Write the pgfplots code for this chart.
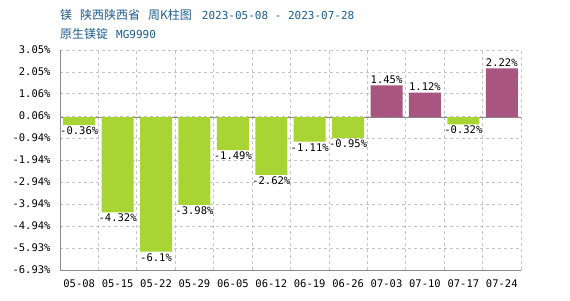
\documentclass[border=0pt]{standalone}
\usepackage{fontspec}
\setmainfont{DejaVu Sans Mono}
\setmonofont{DejaVu Sans Mono}
\newfontfamily\cjk{Noto Sans CJK SC}
\usepackage{pgfplots}
\pgfplotsset{compat=1.18}
\usepackage{pgfplotstable}

\definecolor{barneg}{HTML}{A9D534}
\definecolor{barpos}{HTML}{A8567F}
\definecolor{titleblue}{HTML}{1F5C8C}
\definecolor{gridgray}{HTML}{C4C4C4}
\definecolor{axisgray}{HTML}{8A8A8A}

\pgfplotstableread{
x y lbl
0 -0.36 -0.36\%
1 -4.32 -4.32\%
2 -6.1 -6.1\%
3 -3.98 -3.98\%
4 -1.49 -1.49\%
5 -2.62 -2.62\%
6 -1.11 -1.11\%
7 -0.95 -0.95\%
10 -0.32 -0.32\%
}\negdata
\pgfplotstableread{
x y lbl
8 1.45 1.45\%
9 1.12 1.12\%
11 2.22 2.22\%
}\posdata

\begin{document}
\begin{tikzpicture}[x=1pt,y=1pt]
\useasboundingbox (0,0) rectangle (570,300);
\begin{axis}[
  at={(60pt,30pt)}, anchor=south west,
  scale only axis,
  width=461pt, height=220pt,
  xmin=-0.5, xmax=11.5,
  ymin=-6.93, ymax=3.05,
  axis x line*=bottom, axis y line*=left,
  axis line style={axisgray, line width=1pt, -},
  xtick={0,...,11},
  xticklabels={05-08,05-15,05-22,05-29,06-05,06-12,06-19,06-26,07-03,07-10,07-17,07-24},
  minor xtick={-0.5,0.5,...,11.5},
  ytick={3.05,2.05,1.06,0.06,-0.94,-1.94,-2.94,-3.94,-4.94,-5.93,-6.93},
  yticklabels={3.05\%,2.05\%,1.06\%,0.06\%,-0.94\%,-1.94\%,-2.94\%,-3.94\%,-4.94\%,-5.93\%,-6.93\%},
  ymajorgrids, xminorgrids,
  grid style={gridgray, dashed, line width=0.8pt},
  major tick length=0pt, minor tick length=0pt,
  tick label style={font=\fontsize{10.5}{10.5}\selectfont, /pgf/number format/assume math mode=true},
  yticklabel style={anchor=east, xshift=-6pt},
  xticklabel style={yshift=-6pt},
  extra y ticks={0},
  extra y tick labels={},
  extra y tick style={grid=major, major grid style={axisgray, solid, line width=1pt}},
  ybar, bar width=32pt, bar shift=0pt,
  nodes near coords,
  point meta=explicit symbolic,
  clip=false,
]
\addplot[fill=barneg, draw=none,
  every node near coord/.style={font=\fontsize{10.5}{10.5}\selectfont, black, inner sep=1.5pt, anchor=north}]
  table[x=x, y=y, meta=lbl] {\negdata};
\addplot[fill=barpos, draw=none,
  every node near coord/.style={font=\fontsize{10.5}{10.5}\selectfont, black, inner sep=1.5pt, anchor=south}]
  table[x=x, y=y, meta=lbl] {\posdata};
\end{axis}
\node[anchor=west, titleblue, inner sep=0] at (60,285) {{\cjk\fontsize{12}{12}\selectfont 镁}\hspace{8pt}{\cjk\fontsize{12}{12}\selectfont 陕西陕西省}\hspace{8pt}{\cjk\fontsize{12}{12}\selectfont 周K柱图}\hspace{10pt}{\fontsize{11}{11}\selectfont 2023-05-08 - 2023-07-28}};
\node[anchor=west, titleblue, inner sep=0] at (60,266) {{\cjk\fontsize{12}{12}\selectfont 原生镁锭}\hspace{8pt}{\fontsize{11}{11}\selectfont MG9990}};
\end{tikzpicture}
\end{document}
